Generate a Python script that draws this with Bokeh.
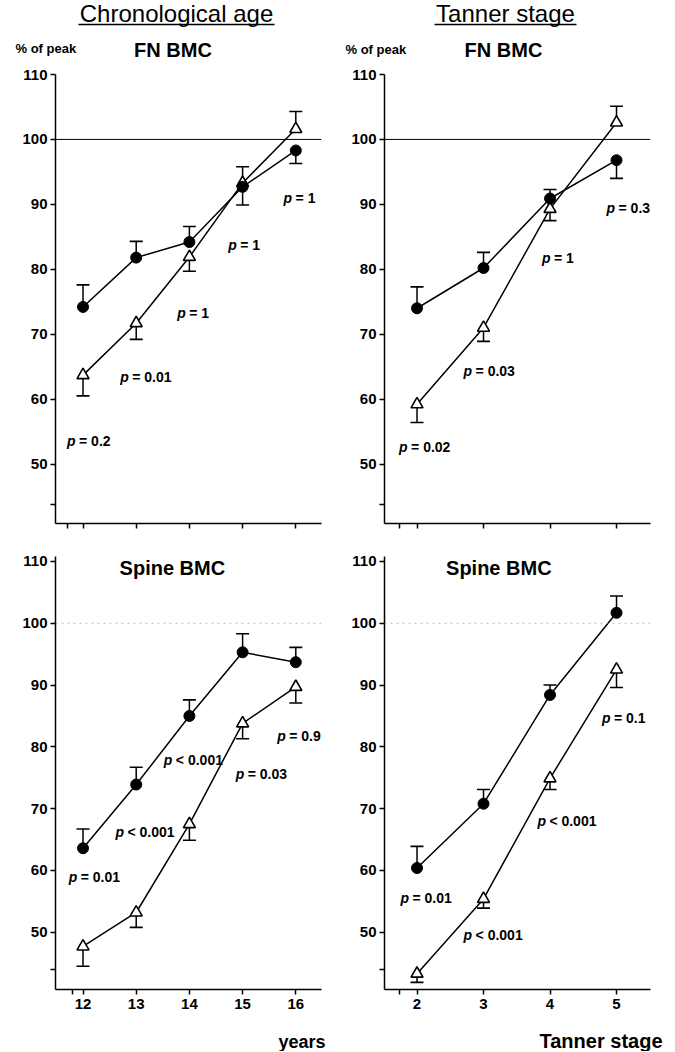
from bokeh.plotting import figure
from bokeh.models import Range1d, FixedTicker, CustomJSTickFormatter, Span, ColumnDataSource
from bokeh.layouts import column, row
from bokeh.core.properties import value
from bokeh.embed import file_html
from bokeh.resources import INLINE

FONT = "Liberation Sans"

# ---------------- data ----------------
ages = [12, 13, 14, 15, 16]
tanner_stages = [2, 3, 4, 5]

# FN BMC vs chronological age (% of peak)
fn_age_circ = [74.2, 81.8, 84.2, 92.7, 98.3]
fn_age_circ_err = [3.4, 2.5, 2.4, 2.8, 2.0]
fn_age_circ_dir = [1, 1, 1, -1, -1]
fn_age_tri = [63.7, 71.7, 81.9, 93.3, 101.6]
fn_age_tri_err = [3.2, 2.5, 2.2, 2.5, 2.7]
fn_age_tri_dir = [-1, -1, -1, 1, 1]
fn_age_p = ["= 0.2", "= 0.01", "= 1", "= 1", "= 1"]

# FN BMC vs Tanner stage
fn_tan_circ = [74.0, 80.2, 90.9, 96.8]
fn_tan_circ_err = [3.3, 2.4, 1.4, 2.8]
fn_tan_circ_dir = [1, 1, 1, -1]
fn_tan_tri = [59.2, 71.0, 89.3, 102.6]
fn_tan_tri_err = [2.8, 2.1, 1.8, 2.5]
fn_tan_tri_dir = [-1, -1, -1, 1]
fn_tan_p = ["= 0.02", "= 0.03", "= 1", "= 0.3"]

# Spine BMC vs chronological age
sp_age_circ = [63.6, 73.9, 85.0, 95.3, 93.7]
sp_age_circ_err = [3.1, 2.8, 2.6, 3.0, 2.4]
sp_age_circ_dir = [1, 1, 1, 1, 1]
sp_age_tri = [47.7, 53.2, 67.5, 83.8, 89.7]
sp_age_tri_err = [3.2, 2.4, 2.6, 2.5, 2.6]
sp_age_tri_dir = [-1, -1, -1, -1, -1]
sp_age_p = ["= 0.01", "< 0.001", "< 0.001", "= 0.03", "= 0.9"]

# Spine BMC vs Tanner stage
sp_tan_circ = [60.4, 70.8, 88.4, 101.7]
sp_tan_circ_err = [3.5, 2.3, 1.6, 2.7]
sp_tan_circ_dir = [1, 1, 1, 1]
sp_tan_tri = [43.3, 55.4, 74.9, 92.5]
sp_tan_tri_err = [1.4, 1.5, 1.8, 2.9]
sp_tan_tri_dir = [-1, -1, -1, -1]
sp_tan_p = ["= 0.01", "< 0.001", "< 0.001", "= 0.1"]

y_tick_values = [50, 60, 70, 80, 90, 100, 110]

# ------------- annotation positions (data coordinates) -------------
fn_age_p_x = [11.70, 12.70, 13.77, 14.73, 15.77]
fn_age_p_y = [53.6, 63.4, 73.3, 83.7, 91.0]
fn_tan_p_x = [1.73, 2.70, 3.88, 4.85]
fn_tan_p_y = [52.7, 64.3, 81.8, 89.5]
sp_age_p_x = [11.73, 12.61, 13.52, 14.87, 15.65]
sp_age_p_y = [59.0, 66.3, 77.9, 75.6, 81.7]
sp_tan_p_x = [1.75, 2.70, 3.81, 4.78]
sp_tan_p_y = [55.6, 49.5, 68.0, 84.7]


def make_panel(xs, circ, circ_err, circ_dir, tri, tri_err, tri_dir,
               p_txt, p_x, p_y, x_range, y_range, x_break, y_break,
               left, right, top, bottom, frame_h, bottom_row):
    p = figure(frame_width=266, frame_height=frame_h,
               min_border_left=left, min_border_right=right,
               min_border_top=top, min_border_bottom=bottom,
               x_range=Range1d(*x_range), y_range=Range1d(*y_range),
               output_backend="svg", toolbar_location=None,
               background_fill_color="white", border_fill_color="white")
    p.outline_line_color = None
    p.xgrid.visible = False
    p.ygrid.visible = False

    for ax in (p.xaxis[0], p.yaxis[0]):
        ax.axis_line_width = 1.5
        ax.axis_line_color = "black"
        ax.major_tick_line_width = 1.5
        ax.major_tick_line_color = "black"
        ax.major_tick_in = 0
        ax.major_tick_out = 5
        ax.minor_tick_line_color = None
        ax.major_label_text_font = FONT
        ax.major_label_text_font_style = "bold"
        ax.major_label_text_font_size = "15px"
        ax.major_label_text_color = "black"

    p.yaxis.ticker = FixedTicker(ticks=[y_break] + y_tick_values)
    p.yaxis.formatter = CustomJSTickFormatter(
        code="return (Math.abs(tick % 10) < 1e-6) ? tick.toFixed(0) : '';")
    p.yaxis.major_label_standoff = 3

    p.xaxis.ticker = FixedTicker(ticks=[x_break] + list(xs))
    if bottom_row:
        p.xaxis.formatter = CustomJSTickFormatter(
            code="return Number.isInteger(tick) ? String(tick) : '';")
        p.xaxis.major_label_standoff = 4
        ref = Span(location=100, dimension="width", line_color="#9a9a9a",
                   line_width=1, line_dash="2 4", line_alpha=0.7)
    else:
        p.xaxis.formatter = CustomJSTickFormatter(code="return '';")
        p.xaxis.major_label_text_font_size = "0px"
        p.xaxis.major_label_standoff = 0
        ref = Span(location=100, dimension="width", line_color="black",
                   line_width=1)
    p.add_layout(ref)

    circ_end = [v + d * e for v, d, e in zip(circ, circ_dir, circ_err)]
    tri_end = [v + d * e for v, d, e in zip(tri, tri_dir, tri_err)]

    src_c = ColumnDataSource(dict(x=list(xs), y=circ, yend=circ_end))
    src_t = ColumnDataSource(dict(x=list(xs), y=tri, yend=tri_end))

    for src in (src_c, src_t):
        p.line("x", "y", source=src, line_color="black", line_width=1.5)
        p.segment(x0="x", y0="y", x1="x", y1="yend", source=src,
                  line_color="black", line_width=1.5)
        p.scatter("x", "yend", source=src, marker="dash", size=13,
                  line_color="black", line_width=1.6)

    p.scatter("x", "y", source=src_t, marker="triangle", size=12,
              fill_color="white", line_color="black", line_width=1.6)
    p.scatter("x", "y", source=src_c, marker="circle", size=11,
              fill_color="black", line_color="black")

    src_p = ColumnDataSource(dict(x=p_x, y=p_y, p=["p"] * len(p_txt), t=p_txt))
    p.text("x", "y", text="p", source=src_p, text_font=value(FONT),
           text_font_style="bold italic", text_font_size="14px",
           text_baseline="middle", text_align="left", text_color="black")
    p.text("x", "y", text="t", source=src_p, text_font=value(FONT),
           text_font_style="bold", text_font_size="14px", x_offset=12,
           text_baseline="middle", text_align="left", text_color="black")
    return p


def text_strip(width, height):
    """A blank figure whose frame is the whole canvas (pixel coordinates, y down)."""
    f = figure(width=width, height=height, x_range=Range1d(0, width),
               y_range=Range1d(height, 0), x_axis_type=None, y_axis_type=None,
               min_border=0, min_border_left=0, min_border_right=0,
               min_border_top=0, min_border_bottom=0,
               output_backend="svg", toolbar_location=None,
               background_fill_color="white", border_fill_color="white")
    f.outline_line_color = None
    f.xgrid.visible = False
    f.ygrid.visible = False
    return f


def put_text(f, x, y, text, size, style="bold", align="center"):
    f.text(x=[x], y=[y], text=[text], text_font=value(FONT),
           text_font_size=size, text_font_style=style, text_align=align,
           text_baseline="middle", text_color="black")


AGE_RANGE = (11.483, 16.483)
TAN_RANGE = (1.511, 5.511)
TOP_Y = (40.85, 110)
BOT_Y = (40.74, 110.8)

p1 = make_panel(ages, fn_age_circ, fn_age_circ_err, fn_age_circ_dir,
                fn_age_tri, fn_age_tri_err, fn_age_tri_dir,
                fn_age_p, fn_age_p_x, fn_age_p_y,
                AGE_RANGE, TOP_Y, 11.70, 43.8,
                55, 19, 10, 17, 449, False)
p2 = make_panel(tanner_stages, fn_tan_circ, fn_tan_circ_err, fn_tan_circ_dir,
                fn_tan_tri, fn_tan_tri_err, fn_tan_tri_dir,
                fn_tan_p, fn_tan_p_x, fn_tan_p_y,
                TAN_RANGE, TOP_Y, 1.73, 43.8,
                44, 17, 10, 17, 449, False)
p3 = make_panel(ages, sp_age_circ, sp_age_circ_err, sp_age_circ_dir,
                sp_age_tri, sp_age_tri_err, sp_age_tri_dir,
                sp_age_p, sp_age_p_x, sp_age_p_y,
                AGE_RANGE, BOT_Y, 11.80, 44.0,
                55, 19, 16, 26, 433, True)
p4 = make_panel(tanner_stages, sp_tan_circ, sp_tan_circ_err, sp_tan_circ_dir,
                sp_tan_tri, sp_tan_tri_err, sp_tan_tri_dir,
                sp_tan_p, sp_tan_p_x, sp_tan_p_y,
                TAN_RANGE, BOT_Y, 1.73, 44.0,
                44, 17, 16, 26, 433, True)

# panel titles inside bottom frames
for fig, cx in ((p3, 13.68), (p4, 3.23)):
    fig.text(x=[cx], y=[110.8], text=["Spine BMC"], text_font=value(FONT),
             text_font_size="20px", text_font_style="bold", text_align="center",
             text_baseline="top", text_color="black")

# header strips (pixel positions)
hdr_left = text_strip(340, 64)
put_text(hdr_left, 176, 13, "Chronological age", "24px", style="normal")
hdr_left.segment(x0=[78], y0=[24], x1=[274], y1=[24], line_color="black",
                 line_width=1.3)
put_text(hdr_left, 15, 48, "% of peak", "13px", align="left")
put_text(hdr_left, 172.5, 49, "FN BMC", "20px")

hdr_right = text_strip(327, 64)
put_text(hdr_right, 165, 13, "Tanner stage", "24px", style="normal")
hdr_right.segment(x0=[94], y0=[24], x1=[236], y1=[24], line_color="black",
                  line_width=1.3)
put_text(hdr_right, 5, 49, "% of peak", "13px", align="left")
put_text(hdr_right, 163, 49, "FN BMC", "20px")

# footer strips (axis titles)
ftr_left = text_strip(340, 36)
put_text(ftr_left, 325, 26, "years", "18px", align="right")
ftr_right = text_strip(327, 36)
put_text(ftr_right, 322, 25, "Tanner stage", "20px", align="right")

layout = column(row(hdr_left, hdr_right),
                row(p1, p2),
                row(p3, p4),
                row(ftr_left, ftr_right))

with open("out.html", "w") as f:
    f.write(file_html(layout, INLINE))
